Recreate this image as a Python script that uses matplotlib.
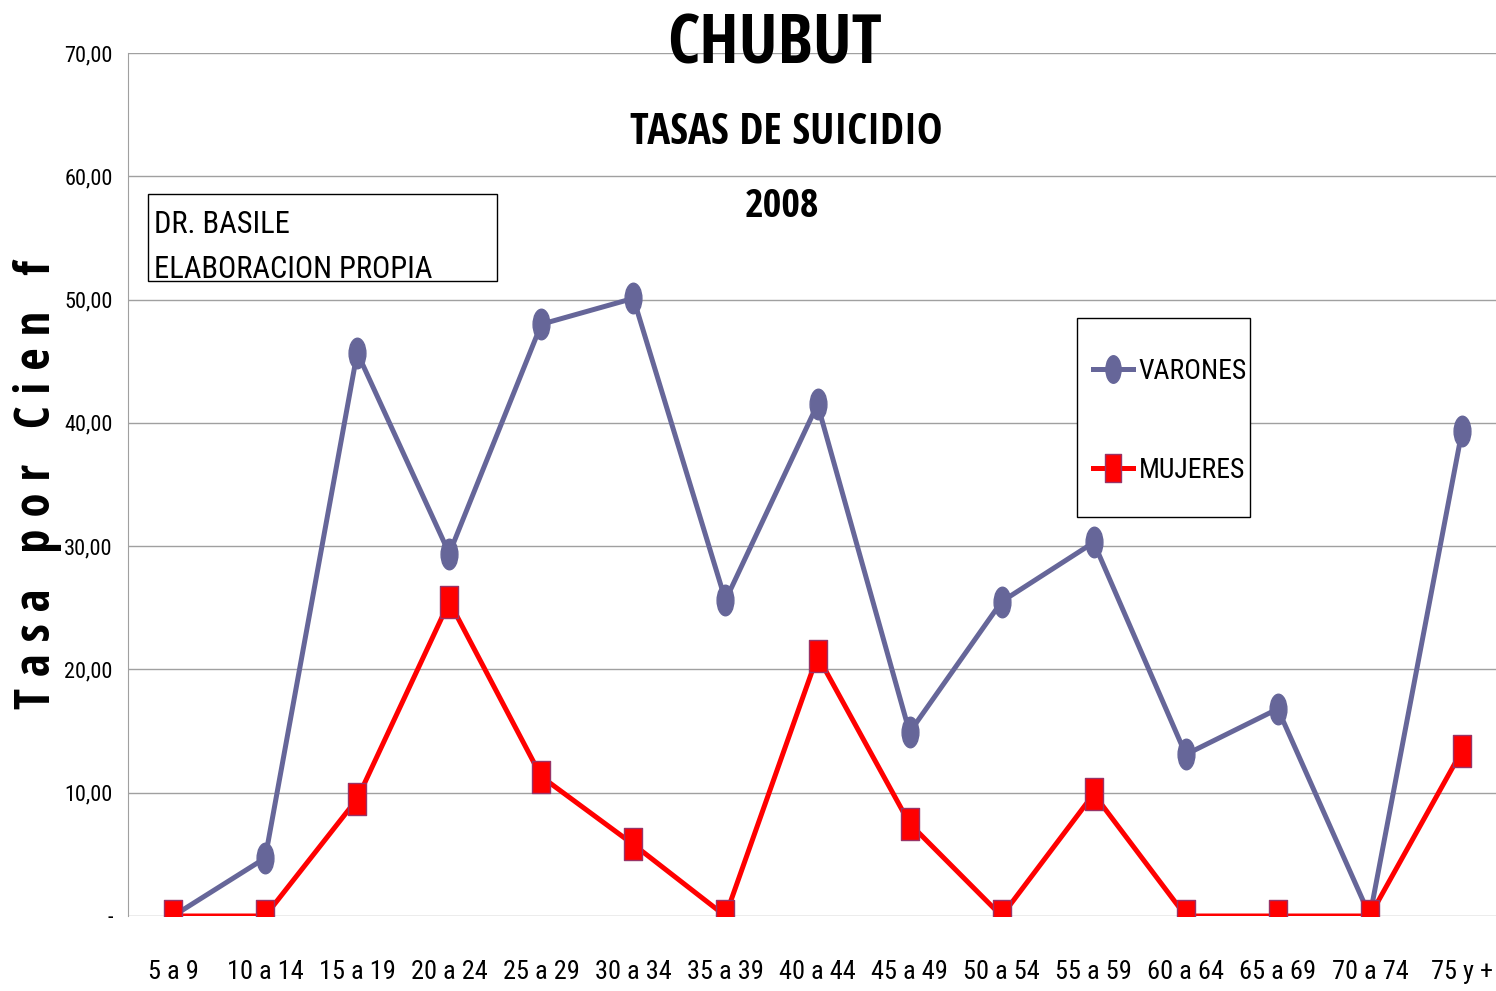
import matplotlib
matplotlib.use("Agg")
import matplotlib.pyplot as plt
from matplotlib import font_manager
from matplotlib.path import Path
from matplotlib.transforms import Affine2D

names = {f.name for f in font_manager.fontManager.ttflist}
regular_prefs = ["Roboto Condensed", "PT Sans Narrow", "Archivo Narrow", "Fira Sans Condensed",
                 "IBM Plex Sans Condensed", "Encode Sans Condensed", "Asap Condensed",
                 "Liberation Sans Narrow", "Open Sans Condensed", "DejaVu Sans"]
bold_prefs = ["Open Sans Condensed", "Roboto Condensed", "PT Sans Narrow", "DejaVu Sans"]
fuente = next(n for n in regular_prefs if n in names)
fuente_b = next(n for n in bold_prefs if n in names)
plt.rcParams['font.family'] = [fuente, 'DejaVu Sans']

grupos = ["5 a 9", "10 a 14", "15 a 19", "20 a 24", "25 a 29", "30 a 34", "35 a 39",
          "40 a 44", "45 a 49", "50 a 54", "55 a 59", "60 a 64", "65 a 69", "70 a 74", "75 y +"]
varones = [0, 4.7, 45.7, 29.4, 48.0, 50.1, 25.6, 41.5, 14.9, 25.5, 30.3, 13.1, 16.8, 0, 39.3]
mujeres = [0, 0, 9.5, 25.5, 11.3, 5.8, 0, 21.1, 7.5, 0, 9.9, 0, 0, 0, 13.4]
yticks = [0, 10, 20, 30, 40, 50, 60, 70]
ylabels = ["-", "10,00", "20,00", "30,00", "40,00", "50,00", "60,00", "70,00"]

ellipse = Path.unit_circle().transformed(Affine2D().scale(0.55, 1.0))
rect = Path.unit_rectangle().transformed(Affine2D().translate(-0.5, -0.5).scale(0.55, 1.0))

W, H = 1496, 991
fig = plt.figure(figsize=(14.96, 9.91), dpi=100)
ax = fig.add_axes([128 / W, 1 - 916 / H, 1 - 128 / W, (916 - 53) / H])

x = list(range(len(grupos)))
ax.plot(x, varones, color="#666699", lw=3.6, marker=ellipse, markersize=22,
        markerfacecolor="#666699", markeredgecolor="#666699", label="VARONES", zorder=3)
ax.plot(x, mujeres, color="#ff0000", lw=3.6, marker=rect, markersize=23,
        markerfacecolor="#ff0000", markeredgecolor="#993366", markeredgewidth=1,
        label="MUJERES", zorder=4)

ax.set_ylim(0, 70)
ax.set_xlim(-0.49, 14.37)
ax.set_yticks(yticks)
ax.set_yticklabels(ylabels, fontsize=16)
ax.set_xticks(x)
ax.set_xticklabels(grupos, fontsize=19)
ax.tick_params(axis="both", length=0)
ax.tick_params(axis="y", pad=11)
ax.tick_params(axis="x", pad=32)
ax.grid(axis="y", color="#a0a0a0", lw=1)
ax.set_axisbelow(True)
for s in ["top", "right", "bottom"]:
    ax.spines[s].set_visible(False)
ax.spines["left"].set_color("#a0a0a0")

# leyenda sin marco; el marco se dibuja aparte (más alto que ancho, como en el original)
leg = fig.legend(loc="center left", bbox_to_anchor=(1093 / W, 1 - 421 / H),
                 fontsize=20, frameon=False, labelspacing=2.6, handlelength=1.45,
                 handletextpad=0.2, borderpad=0, borderaxespad=0, markerscale=0.9)
marco = plt.Rectangle((1077 / W, 1 - 517 / H), (1250 - 1077) / W, (517 - 318) / H,
                      transform=fig.transFigure, facecolor="white", edgecolor="black", lw=1,
                      zorder=5)
fig.patches.append(marco)
leg.set_zorder(6)

fig.text(775 / W, 1 - 46 / H, "CHUBUT", fontsize=50, fontweight="bold",
         family=fuente_b, ha="center", va="center")
fig.text(786 / W, 1 - 133 / H, "TASAS DE SUICIDIO", fontsize=31, fontweight="bold",
         family=fuente_b, ha="center", va="center")
fig.text(782 / W, 1 - 207 / H, "2008", fontsize=29, fontweight="bold",
         family=fuente_b, ha="center", va="center")

box = plt.Rectangle((148 / W, 1 - 281 / H), (497 - 148) / W, (281 - 194) / H,
                    transform=fig.transFigure, fill=False, edgecolor="black", lw=1)
fig.patches.append(box)
fig.text(154 / W, 1 - 225 / H, "DR. BASILE", fontsize=22, va="center")
fig.text(154 / W, 1 - 270 / H, "ELABORACION PROPIA", fontsize=22, va="center")

fig.text(38 / W, 1 - 485 / H, "T a s a   p o r   C i e n   f", fontsize=35,
         fontweight="bold", family=fuente_b, rotation=90, ha="center", va="center")

fig.savefig("out.png", dpi=100)
